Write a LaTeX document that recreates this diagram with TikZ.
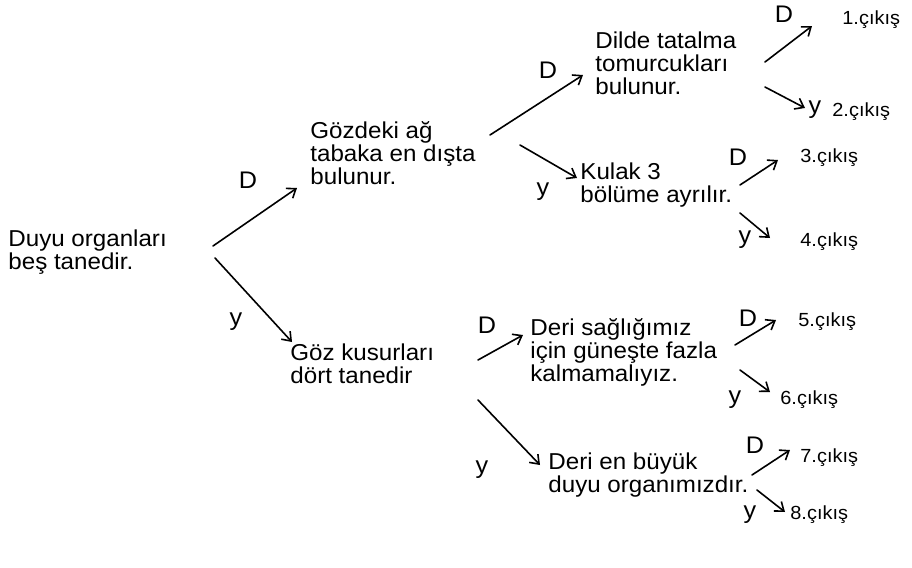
\documentclass[tikz,border=0pt]{standalone}
\usepackage{fontspec}
\setmainfont{Liberation Sans}[FakeStretch=1.05]
\usetikzlibrary{arrows.meta,calc}
\begin{document}
\begin{tikzpicture}[x=0.5pt,y=-0.5pt,
  txt/.style={anchor=west,align=left,inner sep=0pt,font=\fontsize{11.5}{11.5}\selectfont},
  outtxt/.style={anchor=west,inner sep=0pt,font=\fontsize{9.5}{10}\selectfont},
  lab/.style={inner sep=0pt,font=\fontsize{12}{12}\selectfont},
  arr/.style={-{Straight Barb[length=4pt,width=6pt]},line width=0.8pt,line cap=round}]
\useasboundingbox (0,0) rectangle (912,568);
% statements
\node[txt] (root)  at (8,252)   {Duyu organları\\beş tanedir.};
\node[txt] (goz1)  at (310,153) {Gözdeki ağ\\tabaka en dışta\\bulunur.};
\node[txt] (dil)   at (595,63)  {Dilde tatalma\\tomurcukları\\bulunur.};
\node[txt] (kulak) at (580,185) {Kulak 3\\bölüme ayrılır.};
\node[txt] (gozk)  at (290,364) {Göz kusurları\\dört tanedir};
\node[txt] (deris) at (530,352) {Deri sağlığımız\\için güneşte fazla\\kalmamalıyız.};
\node[txt] (derib) at (548,475) {Deri en büyük\\duyu organımızdır.};
% outputs
\node[outtxt] (c1) at (842,20)  {1.çıkış};
\node[outtxt] (c2) at (832,112) {2.çıkış};
\node[outtxt] (c3) at (800,158) {3.çıkış};
\node[outtxt] (c4) at (800,242) {4.çıkış};
\node[outtxt] (c5) at (798,322) {5.çıkış};
\node[outtxt] (c6) at (780,400) {6.çıkış};
\node[outtxt] (c7) at (800,458) {7.çıkış};
\node[outtxt] (c8) at (790,515) {8.çıkış};
% connectors
\draw[arr] ($(root.west)+(205,-6)$) -- ($(goz1.west)+(-13,35)$);
\draw[arr] ($(root.west)+(207,6)$) -- ($(gozk.west)+(2,-22)$);
\draw[arr] ($(goz1.west)+(180,-18)$) -- ($(dil.west)+(-12,12)$);
\draw[arr] ($(goz1.west)+(210,-8)$) -- ($(kulak.west)+(-3,-7)$);
\draw[arr] ($(dil.west)+(170,-1)$) -- ($(c1.west)+(-30,6)$);
\draw[arr] ($(dil.west)+(170,24)$) -- ($(c2.west)+(-27,-4)$);
\draw[arr] ($(kulak.west)+(160,0)$) -- ($(c3.west)+(-22,2)$);
\draw[arr] ($(kulak.west)+(160,28)$) -- ($(c4.west)+(-30,-4)$);
\draw[arr] ($(gozk.west)+(188,-4)$) -- ($(deris.west)+(-7,-17)$);
\draw[arr] ($(gozk.west)+(188,36)$) -- ($(derib.west)+(-8,-10)$);
\draw[arr] ($(deris.west)+(205,-7)$) -- ($(c5.west)+(-22,-2)$);
\draw[arr] ($(deris.west)+(210,18)$) -- ($(c6.west)+(-10,-8)$);
\draw[arr] ($(derib.west)+(204,0)$) -- ($(c7.west)+(-10,-8)$);
\draw[arr] ($(derib.west)+(209,15)$) -- ($(c8.west)+(-5,-3)$);
% labels
\node[lab] (l1)  at (248,180) {D};
\node[lab] (l2)  at (236,322) {y};
\node[lab] (l3)  at (548,70)  {D};
\node[lab] (l4)  at (543,192) {y};
\node[lab] (l5)  at (784,14)  {D};
\node[lab] (l6)  at (815,110) {y};
\node[lab] (l7)  at (738,157) {D};
\node[lab] (l8)  at (745,240) {y};
\node[lab] (l9)  at (487,325) {D};
\node[lab] (l10) at (482,470) {y};
\node[lab] (l11) at (748,318) {D};
\node[lab] (l12) at (735,400) {y};
\node[lab] (l13) at (755,445) {D};
\node[lab] (l14) at (750,515) {y};
\end{tikzpicture}
\end{document}
